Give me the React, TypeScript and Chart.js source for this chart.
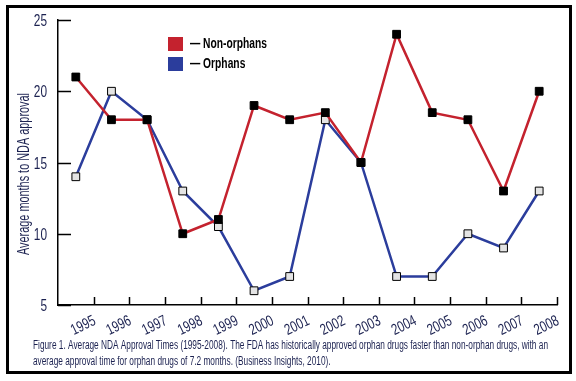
import React, { useEffect, useRef } from "react";
import { Chart, registerables } from "chart.js";

Chart.register(...registerables);

const years = ["1995", "1996", "1997", "1998", "1999", "2000", "2001", "2002", "2003", "2004", "2005", "2006", "2007", "2008"];
const nonOrphans = [21, 18, 18, 10, 11, 19, 18, 18.5, 15, 24, 18.5, 18, 13, 20];
const orphans = [14, 20, 18, 13, 10.5, 6, 7, 18, 15, 7, 7, 10, 9, 13];
const yTicks = [5, 10, 15, 20, 25];
const legendLabels = ["— Non-orphans", "— Orphans"];
const yTitle = "Average months to NDA approval";
const captionLines = [
  "Figure 1. Average NDA Approval Times (1995-2008). The FDA has historically approved orphan drugs faster than non-orphan drugs, with an",
  "average approval time for orphan drugs of 7.2 months. (Business Insights, 2010).",
];

const RED = "#c4222e";
const BLUE = "#2b3d9c";
const NAVY = "#1b2150";
const FONT = "'Liberation Sans', Arial, sans-serif";
const NUM_SCALE = 0.74;

function scaledText(ctx: CanvasRenderingContext2D, text: string, x: number, y: number, sx: number, rot = 0) {
  ctx.save();
  ctx.translate(x, y);
  if (rot) ctx.rotate(rot);
  ctx.scale(sx, 1);
  ctx.fillText(text, 0, 0);
  ctx.restore();
}

const decor = {
  id: "decor",
  afterDraw(chart: any) {
    const ctx = chart.ctx as CanvasRenderingContext2D;
    const xs = chart.scales.x;
    const ys = chart.scales.y;
    const area = chart.chartArea;
    ctx.save();
    // outer frame
    ctx.strokeStyle = "#000";
    ctx.lineWidth = 3;
    ctx.strokeRect(7.5, 6.5, 563, 366);

    // inward tick marks
    ctx.lineWidth = 1.5;
    ctx.beginPath();
    for (const v of yTicks) {
      const y = Math.round(ys.getPixelForValue(v)) + 0.5;
      ctx.moveTo(area.left, y);
      ctx.lineTo(area.left + 13, y);
    }
    const step = xs.getPixelForValue(1) - xs.getPixelForValue(0);
    for (let i = 0; i < years.length; i++) {
      const x = Math.round(xs.getPixelForValue(i) + step / 2) + 0.5;
      ctx.moveTo(x, area.bottom);
      ctx.lineTo(x, area.bottom - 8);
    }
    ctx.stroke();

    // y tick labels
    ctx.fillStyle = NAVY;
    ctx.font = `16px ${FONT}`;
    ctx.textBaseline = "alphabetic";
    ctx.textAlign = "right";
    for (const v of yTicks) {
      const y = ys.getPixelForValue(v);
      scaledText(ctx, String(v), area.left - 11, y + 6, NUM_SCALE);
    }

    // x tick labels (rotated)
    const rot = (-26 * Math.PI) / 180;
    ctx.font = `15.5px ${FONT}`;
    for (let i = 0; i < years.length; i++) {
      const bx = xs.getPixelForValue(i) + step / 2;
      scaledText(ctx, years[i], bx + 3, area.bottom + 19, NUM_SCALE, rot);
    }

    // y title
    ctx.textAlign = "center";
    ctx.textBaseline = "middle";
    ctx.font = `16px ${FONT}`;
    const tw = ctx.measureText(yTitle).width;
    ctx.save();
    ctx.translate(25, 174);
    ctx.rotate(-Math.PI / 2);
    ctx.scale(162 / tw, 1);
    ctx.fillText(yTitle, 0, 0);
    ctx.restore();

    // legend
    const colors = [RED, BLUE];
    const ly = [44, 64];
    ctx.font = `bold 15px ${FONT}`;
    ctx.textBaseline = "middle";
    ctx.textAlign = "left";
    const lw = ctx.measureText(legendLabels[0]).width;
    const lsx = 77 / lw;
    for (let i = 0; i < 2; i++) {
      ctx.fillStyle = colors[i];
      ctx.fillRect(168, ly[i] - 7, 15, 14);
      ctx.fillStyle = "#000";
      scaledText(ctx, legendLabels[i], 190, ly[i], lsx);
    }

    // caption
    ctx.fillStyle = NAVY;
    ctx.font = `12.5px ${FONT}`;
    ctx.textBaseline = "alphabetic";
    const w0 = ctx.measureText(captionLines[0]).width;
    const sx = 515 / w0;
    scaledText(ctx, captionLines[0], 33, 349, sx);
    scaledText(ctx, captionLines[1], 33, 364.5, sx);
    ctx.restore();
  },
};

export default function App() {
  const ref = useRef<HTMLCanvasElement | null>(null);
  useEffect(() => {
    if (!ref.current) return;
    const chart = new Chart(ref.current, {
      type: "line",
      data: {
        labels: years,
        datasets: [
          {
            label: "Non-orphans",
            data: nonOrphans,
            borderColor: RED,
            backgroundColor: "#000",
            borderWidth: 2.5,
            pointStyle: "rect",
            pointRadius: 5.5,
            pointBackgroundColor: "#000",
            pointBorderColor: "#000",
            pointBorderWidth: 1,
            tension: 0,
          },
          {
            label: "Orphans",
            data: orphans,
            borderColor: BLUE,
            backgroundColor: "#e4e4e4",
            borderWidth: 2.5,
            pointStyle: "rect",
            pointRadius: 5.5,
            pointBackgroundColor: "#e4e4e4",
            pointBorderColor: "#000",
            pointBorderWidth: 1,
            tension: 0,
          },
        ],
      },
      options: {
        animation: false,
        responsive: false,
        devicePixelRatio: 1,
        layout: { padding: { left: 0, top: 20, right: 19, bottom: 0 } },
        plugins: { legend: { display: false }, tooltip: { enabled: false } },
        scales: {
          x: {
            type: "category",
            offset: true,
            grid: { display: false, drawTicks: false, offset: true },
            border: { display: true, color: "#000", width: 1.5 },
            ticks: { display: false, autoSkip: false },
            afterFit: (s: any) => {
              s.height = 76;
            },
          },
          y: {
            min: 5,
            max: 25,
            grid: { display: false, drawTicks: false },
            border: { display: true, color: "#000", width: 1.5 },
            ticks: { display: false, stepSize: 5 },
            afterFit: (s: any) => {
              s.width = 58;
            },
          },
        },
      },
      plugins: [decor],
    });
    return () => chart.destroy();
  }, []);
  return (
    <div style={{ position: "fixed", left: 0, top: 0, width: 576, height: 381, background: "#fff" }}>
      <canvas ref={ref} width={576} height={381} style={{ width: 576, height: 381 }} />
    </div>
  );
}
